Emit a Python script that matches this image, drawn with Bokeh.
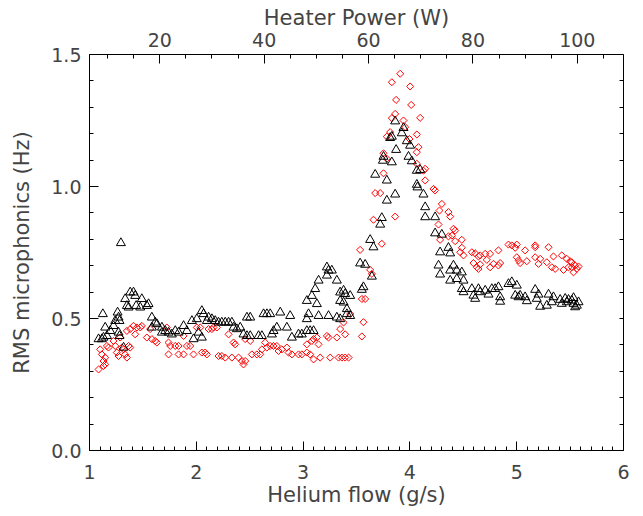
import numpy as np
from bokeh.plotting import figure
from bokeh.models import Range1d, LinearAxis, FixedTicker, NumeralTickFormatter
from bokeh.embed import file_html
from bokeh.resources import INLINE

# ---------------- data ----------------
# Black triangles: (helium flow g/s, RMS microphonics Hz)
black_plateau = [
    (1.085, 0.422), (1.125, 0.517), (1.147, 0.466), (1.131, 0.428), (1.116, 0.422),
    (1.163, 0.434), (1.194, 0.453), (1.225, 0.472), (1.241, 0.491), (1.263, 0.523),
    (1.272, 0.504), (1.281, 0.491), (1.294, 0.786), (1.272, 0.447), (1.281, 0.434),
    (1.319, 0.390), (1.334, 0.574), (1.350, 0.548), (1.366, 0.542), (1.381, 0.599),
    (1.412, 0.599), (1.428, 0.586), (1.437, 0.548), (1.475, 0.542), (1.490, 0.574),
    (1.537, 0.548), (1.553, 0.555), (1.584, 0.504), (1.584, 0.466), (1.615, 0.485),
    (1.631, 0.479), (1.678, 0.466), (1.678, 0.447), (1.709, 0.453), (1.740, 0.447),
    (1.771, 0.440), (1.803, 0.453), (1.834, 0.447), (1.881, 0.472), (1.912, 0.453),
    (1.959, 0.491), (1.974, 0.422), (2.005, 0.498), (2.052, 0.529), (2.068, 0.517),
    (2.021, 0.447), (2.052, 0.428), (2.099, 0.491), (2.115, 0.504), (2.146, 0.498),
    (2.177, 0.491), (2.208, 0.485), (2.239, 0.485), (2.271, 0.485), (2.302, 0.485),
    (2.333, 0.485), (2.349, 0.466), (2.380, 0.460), (2.411, 0.466), (2.442, 0.440),
    (2.474, 0.504), (2.505, 0.504), (2.474, 0.434), (2.505, 0.434), (2.583, 0.434),
    (2.614, 0.434), (2.630, 0.517), (2.661, 0.517), (2.692, 0.517), (2.708, 0.440),
    (2.723, 0.453), (2.754, 0.466), (2.786, 0.523), (2.848, 0.466), (2.879, 0.510),
    (2.895, 0.428), (2.957, 0.440), (2.988, 0.440), (3.035, 0.453), (3.066, 0.453),
    (3.098, 0.453), (3.035, 0.567), (3.051, 0.517), (3.035, 0.498), (3.082, 0.586),
    (3.113, 0.612), (3.129, 0.555), (3.145, 0.644), (3.145, 0.510), (3.223, 0.694),
    (3.238, 0.682), (3.223, 0.663), (3.269, 0.682), (3.316, 0.644), (3.238, 0.510),
    (3.316, 0.504), (3.347, 0.599), (3.347, 0.567), (3.379, 0.606), (3.394, 0.593),
    (3.379, 0.561), (3.441, 0.586), (3.410, 0.536), (3.410, 0.517), (3.441, 0.510),
    (3.347, 0.498),
]
black_peak = [
    (3.862, 1.247), (3.940, 1.222), (3.831, 1.189), (3.815, 1.184), (3.924, 1.202),
    (3.971, 1.172), (4.002, 1.155), (3.871, 1.139), (3.987, 1.113), (4.018, 1.096),
    (3.753, 1.113), (3.747, 1.098), (3.831, 1.092), (4.096, 1.063), (4.065, 1.060),
    (3.675, 1.045), (3.784, 1.023), (3.862, 0.970), (3.784, 0.947), (3.737, 0.881),
    (3.722, 0.856), (3.628, 0.798), (3.659, 0.770), (3.534, 0.709), (3.581, 0.704),
    (3.644, 0.659), (3.565, 0.619), (3.550, 0.609), (4.065, 1.007), (4.071, 0.997),
]
black_tail = [
    (4.127, 0.970), (4.143, 0.922), (4.143, 0.884), (4.236, 0.884), (4.236, 0.823),
    (4.299, 0.818), (4.283, 0.751), (4.268, 0.701), (4.283, 0.667), (4.361, 0.768),
    (4.377, 0.747), (4.377, 0.682), (4.377, 0.644), (4.408, 0.701), (4.439, 0.682),
    (4.486, 0.675), (4.439, 0.650), (4.502, 0.644), (4.486, 0.612), (4.502, 0.600),
    (4.580, 0.612), (4.595, 0.587), (4.611, 0.575), (4.642, 0.612), (4.658, 0.600),
    (4.705, 0.606), (4.736, 0.591), (4.767, 0.612), (4.798, 0.612), (4.829, 0.619),
    (4.845, 0.581), (4.845, 0.564), (4.923, 0.631), (4.954, 0.638), (5.001, 0.625),
    (4.986, 0.587), (5.017, 0.581), (5.032, 0.587), (5.079, 0.581), (5.095, 0.566),
    (5.173, 0.609), (5.204, 0.591), (5.188, 0.575), (5.220, 0.545), (5.298, 0.591),
    (5.282, 0.549), (5.329, 0.562), (5.344, 0.581), (5.407, 0.571), (5.422, 0.556),
    (5.454, 0.575), (5.469, 0.562), (5.485, 0.571), (5.516, 0.568), (5.532, 0.556),
    (5.547, 0.543), (5.563, 0.549), (5.579, 0.562), (5.532, 0.578),
]

# Red diamonds: (helium flow g/s, RMS microphonics Hz)
red_plateau = [
    (1.085, 0.307), (1.100, 0.383), (1.116, 0.364), (1.131, 0.339), (1.147, 0.326),
    (1.131, 0.320), (1.147, 0.352), (1.163, 0.396), (1.178, 0.390), (1.225, 0.415),
    (1.241, 0.396), (1.256, 0.371), (1.272, 0.358), (1.287, 0.428), (1.303, 0.390),
    (1.319, 0.383), (1.334, 0.364), (1.350, 0.352), (1.366, 0.396), (1.381, 0.390),
    (1.350, 0.453), (1.381, 0.460), (1.412, 0.472), (1.428, 0.440), (1.444, 0.466),
    (1.475, 0.466), (1.490, 0.472), (1.537, 0.428), (1.568, 0.460), (1.584, 0.422),
    (1.615, 0.415), (1.631, 0.409), (1.724, 0.466), (1.740, 0.409), (1.740, 0.364),
    (1.756, 0.396), (1.803, 0.396), (1.834, 0.396), (1.834, 0.364), (1.881, 0.434),
    (1.881, 0.364), (1.912, 0.396), (1.943, 0.396), (1.974, 0.364), (2.005, 0.466),
    (2.037, 0.466), (2.052, 0.371), (2.083, 0.371), (2.099, 0.364), (2.115, 0.460),
    (2.146, 0.460), (2.161, 0.466), (2.193, 0.466), (2.208, 0.358), (2.239, 0.358),
    (2.271, 0.352), (2.302, 0.440), (2.333, 0.352), (2.349, 0.409), (2.364, 0.402),
    (2.396, 0.352), (2.427, 0.339), (2.442, 0.326), (2.458, 0.339), (2.458, 0.422),
    (2.505, 0.415), (2.520, 0.364), (2.567, 0.364), (2.598, 0.364), (2.614, 0.383),
    (2.645, 0.409), (2.661, 0.390), (2.692, 0.396), (2.723, 0.396), (2.754, 0.396),
    (2.770, 0.377), (2.801, 0.383), (2.848, 0.390), (2.864, 0.371), (2.895, 0.364),
    (2.957, 0.364), (2.988, 0.364), (3.035, 0.371), (3.035, 0.402), (3.066, 0.364),
    (3.082, 0.415), (3.098, 0.422), (3.129, 0.428), (3.145, 0.402), (3.098, 0.345),
    (3.160, 0.352), (3.223, 0.434), (3.238, 0.428), (3.254, 0.352), (3.316, 0.428),
    (3.332, 0.352), (3.363, 0.352), (3.394, 0.352), (3.426, 0.352), (3.347, 0.460),
    (3.379, 0.485), (3.394, 0.440), (3.441, 0.517),
]
red_peak = [
    (3.909, 1.427), (3.831, 1.395), (4.002, 1.379), (3.871, 1.328), (4.012, 1.309),
    (3.862, 1.275), (3.831, 1.259), (3.940, 1.250), (4.096, 1.260), (3.956, 1.225),
    (3.815, 1.206), (3.784, 1.189), (4.065, 1.197), (3.996, 1.180), (4.080, 1.149),
    (4.065, 1.130), (3.753, 1.126), (3.784, 1.105), (4.065, 1.086), (4.143, 1.067),
    (4.127, 1.060), (3.753, 1.050), (3.675, 0.975), (3.722, 0.975), (3.862, 0.886),
    (3.659, 0.874), (3.737, 0.783), (3.534, 0.760), (3.628, 0.684), (3.644, 0.669),
    (3.550, 0.574), (3.581, 0.574), (3.565, 0.486), (3.550, 0.432),
]
red_tail = [
    (4.143, 1.023), (4.221, 0.991), (4.236, 0.985), (4.299, 0.934), (4.277, 0.909),
    (4.361, 0.903), (4.377, 0.886), (4.268, 0.856), (4.408, 0.840), (4.424, 0.833),
    (4.393, 0.814), (4.283, 0.798), (4.361, 0.811), (4.424, 0.793), (4.486, 0.798),
    (4.486, 0.768), (4.471, 0.751), (4.502, 0.739), (4.580, 0.751), (4.611, 0.747),
    (4.658, 0.739), (4.705, 0.745), (4.751, 0.745), (4.642, 0.735), (4.595, 0.710),
    (4.627, 0.694), (4.658, 0.705), (4.642, 0.688), (4.720, 0.722), (4.751, 0.694),
    (4.783, 0.707), (4.829, 0.758), (4.845, 0.710), (4.829, 0.701), (4.923, 0.780),
    (4.954, 0.777), (4.986, 0.768), (5.001, 0.780), (5.001, 0.732), (5.017, 0.720),
    (5.032, 0.710), (5.079, 0.758), (5.095, 0.717), (5.173, 0.770), (5.173, 0.777),
    (5.173, 0.732), (5.220, 0.726), (5.204, 0.707), (5.298, 0.770), (5.282, 0.713),
    (5.329, 0.694), (5.344, 0.735), (5.360, 0.688), (5.422, 0.739), (5.438, 0.684),
    (5.469, 0.726), (5.500, 0.717), (5.516, 0.694), (5.532, 0.675), (5.547, 0.701),
    (5.563, 0.688), (5.579, 0.697), (5.485, 0.694), (5.516, 0.713),
]

# axes
flow_ticks = [1, 2, 3, 4, 5, 6]
rms_ticks = [0.0, 0.5, 1.0, 1.5]
power_ticks = [20, 40, 60, 80, 100]
power_range = (6.54, 108.85)

# ---------------- figure ----------------
FONT = "'DejaVu Sans ExtraLight', 'DejaVu Sans'"
TXT = "#444444"

p = figure(frame_width=534, frame_height=396,
           x_range=Range1d(1, 6), y_range=Range1d(0, 1.5),
           output_backend="svg", toolbar_location=None,
           min_border_left=89, min_border_top=54, min_border_right=20,
           min_border_bottom=40, background_fill_color="white",
           border_fill_color="white")
p.outline_line_color = None
p.xgrid.visible = False
p.ygrid.visible = False
p.extra_x_ranges = {"power": Range1d(*power_range)}

top = LinearAxis(x_range_name="power", axis_label="Heater Power (W)")
right = LinearAxis()
p.add_layout(top, "above")
p.add_layout(right, "right")

bottom = p.below[0]
left = p.left[0]

bottom.ticker = FixedTicker(ticks=flow_ticks,
                            minor_ticks=[round(1 + 0.1 * i, 2) for i in range(51)])
bottom.axis_label = "Helium flow (g/s)"
left.ticker = FixedTicker(ticks=rms_ticks,
                          minor_ticks=[round(0.1 * i, 2) for i in range(16)])
left.formatter = NumeralTickFormatter(format="0.0")
left.axis_label = "RMS microphonics (Hz)"
right.ticker = FixedTicker(ticks=[],
                           minor_ticks=[round(0.1 * i, 2) for i in range(16)])
top.ticker = FixedTicker(ticks=power_ticks,
                         minor_ticks=list(range(10, 106, 5)))

for ax in (bottom, left, right, top):
    ax.axis_line_color = "black"
    ax.axis_line_width = 1
    ax.major_tick_in = 9
    ax.major_tick_out = 0
    ax.minor_tick_in = 4
    ax.minor_tick_out = 0
    ax.major_tick_line_color = "black"
    ax.minor_tick_line_color = "black"
    ax.major_label_text_font = FONT
    ax.major_label_text_font_size = "19px"
    ax.major_label_text_color = TXT
    ax.axis_label_text_font = FONT
    ax.axis_label_text_font_size = "21px"
    ax.axis_label_text_font_style = "normal"
    ax.axis_label_text_color = TXT

right.minor_tick_in = 4
right.major_label_standoff = 0
top.major_label_standoff = 8
top.axis_label_standoff = 0
bottom.major_label_standoff = 14
bottom.axis_label_standoff = 1
left.major_label_standoff = 8
left.axis_label_standoff = 14

bx = [f for f, r in black_plateau + black_peak + black_tail]
by = [r for f, r in black_plateau + black_peak + black_tail]
rx = [f for f, r in red_plateau + red_peak + red_tail]
ry = [r for f, r in red_plateau + red_peak + red_tail]

p.scatter(rx, ry, marker="square", angle=np.pi / 4, size=5,
          line_color="red", fill_color=None, line_width=1)
p.scatter(bx, by, marker="triangle", size=9,
          line_color="black", fill_color=None, line_width=1)

open("out.html", "w").write(file_html(p, INLINE))
